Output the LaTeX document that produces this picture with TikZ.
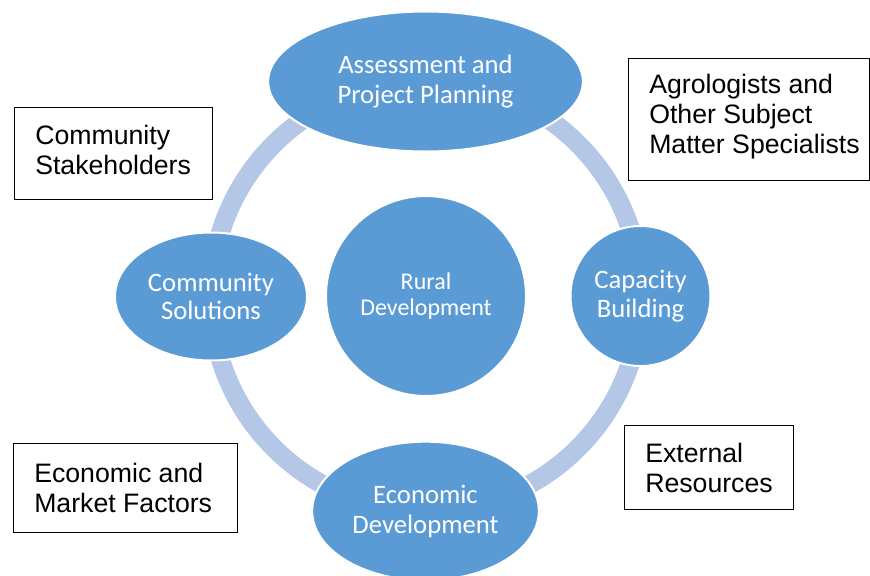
\documentclass[tikz,border=0pt]{standalone}
\usepackage{fontspec}
\setmainfont{Carlito}
\newfontfamily\boxfont{Liberation Sans}
\usetikzlibrary{shapes.geometric}
\definecolor{nodeblue}{HTML}{5B9BD5}
\definecolor{ringblue}{HTML}{B4C7E7}
\begin{document}
\begin{tikzpicture}[x=0.75pt,y=-0.75pt,
  cyclenode/.style={ellipse, fill=nodeblue, draw=white, line width=1.5pt,
    text=white, inner sep=0pt, align=center,
    font=\fontsize{20}{22.5}\selectfont},
  ring/.style={draw=ringblue, line width=14.25pt},
  notebox/.style 2 args={rectangle, draw=black, line width=1.1pt,
    anchor=north west, inner sep=0pt, minimum width=#1, minimum height=#2},
  notetext/.style={anchor=west, inner xsep=15.75pt, inner ysep=0pt,
    align=left, text=black, font=\boxfont\fontsize{20}{22.5}\selectfont}]

  % page area
  \clip (0,0) rectangle (870,575);

  % ring linking the four stages
  \coordinate (hub) at (426,296);
  \draw[ring] (hub) circle[radius=161.25pt];

  % central circle
  \node[cyclenode, minimum width=150pt, minimum height=150pt,
        font=\fontsize{18}{20}\selectfont] (rural) at (hub) {Rural\\Development};

  % stages on the ring
  \node[cyclenode, minimum width=236pt, minimum height=105pt] (assess) at (425.5,81.5)
    {Assessment and\\Project Planning};
  \node[cyclenode, minimum width=105pt, minimum height=105pt,
        font=\fontsize{20}{21.5}\selectfont] (capacity) at (640.5,296)
    {Capacity\\Building};
  \node[cyclenode, minimum width=170pt, minimum height=104pt] (econ) at (425.5,511)
    {Economic\\Development};
  \node[cyclenode, minimum width=144pt, minimum height=96pt,
        font=\fontsize{20}{21.5}\selectfont] (solutions) at (211,296.5)
    {Community\\Solutions};

  % outside influences
  \node[notebox={148.5pt}{69pt},
        label={[notetext, yshift=2.5pt]west:Community\\Stakeholders}] (stake) at (14,107) {};
  \node[notebox={180.75pt}{91.5pt},
        label={[notetext, yshift=2.5pt]west:Agrologists and\\Other Subject\\Matter Specialists}] (agro) at (628,58) {};
  \node[notebox={168pt}{66.75pt},
        label={[notetext]west:Economic and\\Market Factors}] (market) at (13,443) {};
  \node[notebox={126.75pt}{63pt},
        label={[notetext]west:External\\Resources}] (external) at (624,425) {};
\end{tikzpicture}
\end{document}
